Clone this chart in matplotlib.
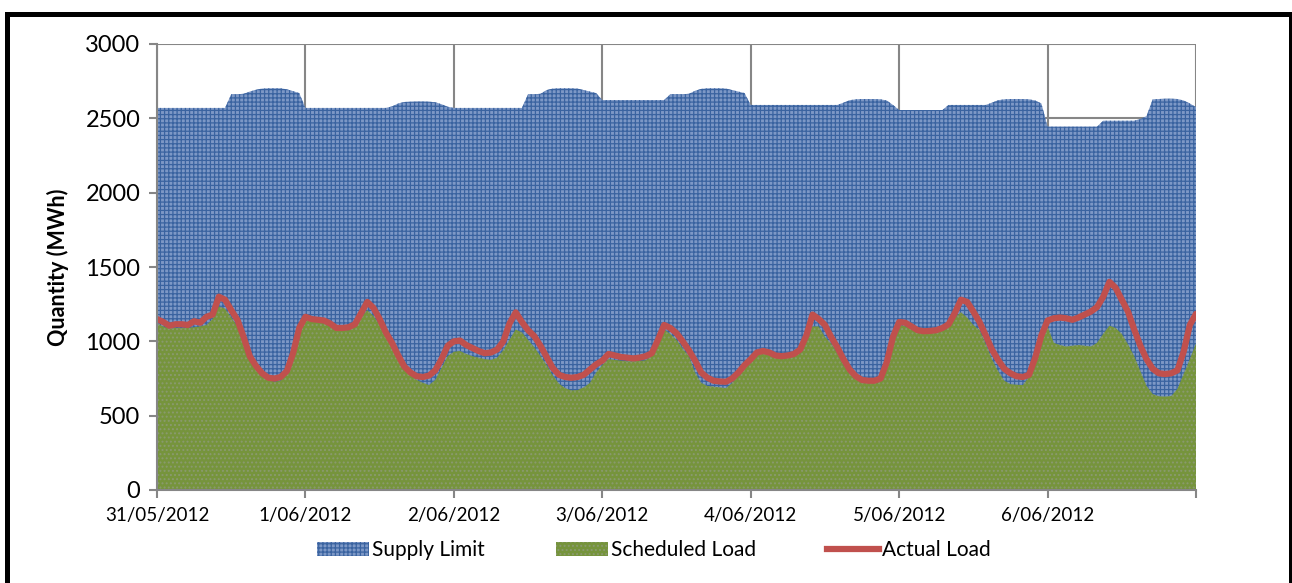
import matplotlib
matplotlib.use("Agg")
import matplotlib.pyplot as plt
import numpy as np
from matplotlib.patches import Patch, Rectangle
from matplotlib.lines import Line2D

plt.rcParams['font.family'] = ['Lato', 'DejaVu Sans']

# ---- data (hourly, 31/05/2012 00:00 .. 7/06/2012 00:00) ----
date_labels = ["31/05/2012", "1/06/2012", "2/06/2012", "3/06/2012",
               "4/06/2012", "5/06/2012", "6/06/2012", ""]

supply_limit = [
    # 31/05
    2570, 2570, 2570, 2570, 2570, 2570, 2570, 2570, 2570, 2570, 2570, 2570,
    2662, 2662, 2665, 2680, 2692, 2700, 2702, 2702, 2702, 2695, 2683, 2670,
    # 1/06
    2570, 2570, 2570, 2570, 2570, 2570, 2570, 2570, 2570, 2570, 2570, 2570,
    2570, 2570, 2580, 2600, 2610, 2612, 2613, 2613, 2612, 2608, 2595, 2578,
    # 2/06
    2570, 2570, 2570, 2570, 2570, 2570, 2570, 2570, 2570, 2570, 2570, 2570,
    2662, 2662, 2665, 2690, 2700, 2702, 2702, 2702, 2700, 2690, 2680, 2670,
    # 3/06
    2623, 2623, 2623, 2623, 2623, 2623, 2623, 2623, 2623, 2623, 2623, 2662,
    2662, 2662, 2665, 2685, 2698, 2702, 2702, 2702, 2700, 2690, 2680, 2670,
    # 4/06
    2590, 2590, 2590, 2590, 2590, 2590, 2590, 2590, 2590, 2590, 2590, 2590,
    2590, 2590, 2590, 2605, 2622, 2628, 2630, 2630, 2630, 2628, 2620, 2590,
    # 5/06
    2556, 2556, 2556, 2556, 2556, 2556, 2556, 2556, 2590, 2590, 2590, 2590,
    2590, 2590, 2590, 2605, 2622, 2628, 2630, 2630, 2630, 2628, 2620, 2600,
    # 6/06
    2444, 2444, 2444, 2444, 2444, 2444, 2444, 2444, 2444, 2484, 2484, 2484,
    2484, 2484, 2484, 2495, 2515, 2628, 2630, 2632, 2632, 2630, 2620, 2600,
    2575,
]

scheduled_load = [
    1120, 1100, 1085, 1090, 1088, 1090, 1095, 1100, 1110, 1150, 1235, 1220,
    1160, 1100, 1000, 890, 815, 770, 740, 728, 735, 780, 900, 1080,
    1140, 1135, 1130, 1120, 1100, 1078, 1075, 1075, 1100, 1160, 1210, 1170,
    1110, 1040, 970, 880, 810, 770, 740, 720, 706, 740, 820, 900,
    930, 935, 915, 900, 890, 880, 875, 890, 940, 1010, 1080, 1060,
    1010, 960, 900, 840, 770, 715, 685, 670, 672, 690, 720, 790,
    840, 880, 875, 870, 865, 865, 868, 872, 900, 990, 1080, 1050,
    1010, 950, 900, 790, 720, 700, 695, 690, 685, 720, 770, 830,
    900, 925, 915, 908, 900, 895, 892, 910, 940, 1030, 1100, 1100,
    1030, 985, 920, 840, 780, 745, 735, 730, 728, 760, 830, 1050,
    1110, 1100, 1085, 1075, 1066, 1068, 1072, 1076, 1110, 1160, 1195, 1160,
    1110, 1076, 980, 880, 800, 735, 712, 708, 706, 760, 860, 1000,
    1100, 990, 975, 965, 970, 975, 970, 965, 990, 1050, 1105, 1090,
    1050, 980, 900, 800, 700, 645, 630, 628, 632, 680, 780, 880,
    985,
]

actual_load = [
    1150, 1130, 1105, 1115, 1115, 1110, 1135, 1125, 1165, 1180, 1300, 1280,
    1210, 1145, 1030, 900, 835, 785, 755, 750, 760, 800, 920, 1090,
    1165, 1150, 1145, 1140, 1120, 1090, 1090, 1095, 1115, 1190, 1265, 1225,
    1150, 1060, 990, 905, 830, 790, 765, 760, 770, 805, 880, 970,
    1000, 1005, 975, 955, 935, 920, 925, 945, 1000, 1120, 1195, 1130,
    1075, 1035, 970, 895, 820, 775, 760, 755, 760, 775, 810, 845,
    870, 915, 905, 895, 890, 885, 890, 900, 920, 1010, 1110, 1090,
    1055, 1000, 940, 870, 790, 755, 735, 730, 728, 750, 790, 840,
    880, 925, 935, 925, 905, 900, 905, 915, 945, 1040, 1180, 1150,
    1110, 1030, 960, 880, 810, 765, 740, 735, 735, 750, 860, 1030,
    1130, 1125, 1100, 1075, 1068, 1070, 1075, 1090, 1115, 1190, 1280, 1265,
    1200, 1130, 1040, 945, 875, 815, 785, 765, 760, 775, 890, 1040,
    1140, 1155, 1160, 1155, 1145, 1160, 1180, 1200, 1230, 1300, 1400, 1360,
    1280, 1200, 1080, 970, 880, 815, 785, 780, 785, 805, 930, 1110,
    1185,
]

# ---- figure ----
W, H = 1292, 583
fig = plt.figure(figsize=(W / 100, H / 100), dpi=100)
ax = fig.add_axes([157 / W, 1 - 490 / H, (1196 - 157) / W, (490 - 44) / H])

x = np.arange(len(actual_load)) / 24.0
plt.rcParams['hatch.linewidth'] = 0.9

blue_face = '#7d98c6'
blue_hatch = '#3a63a0'
green_face = '#76943c'
green_hatch = '#8a9a70'

ax.fill_between(x, 0, supply_limit, facecolor=blue_face, edgecolor=blue_hatch,
                hatch='++++', linewidth=0, zorder=2)
ax.fill_between(x, 0, scheduled_load, facecolor=green_face, edgecolor=green_hatch,
                hatch='....', linewidth=0, zorder=3)
ax.plot(x, actual_load, color='#c0504d', lw=4.5, solid_capstyle='round',
        solid_joinstyle='round', zorder=4)

ax.set_xlim(0, 7)
ax.set_ylim(0, 3000)
ax.set_yticks(np.arange(0, 3001, 500))
ax.set_xticks(np.arange(0, 8))
ax.set_xticklabels(date_labels)

grid_c = '#868686'
ax.grid(True, color=grid_c, lw=1.5, zorder=0)
ax.set_axisbelow(True)
for s in ['top', 'right']:
    ax.spines[s].set_visible(False)
for s in ['left', 'bottom']:
    ax.spines[s].set_color(grid_c)
    ax.spines[s].set_linewidth(1.5)
    ax.spines[s].set_zorder(5)

ax.tick_params(axis='y', colors=grid_c, length=6, width=1.5, labelsize=17,
               labelcolor='black', pad=6)
ax.tick_params(axis='x', colors=grid_c, length=6, width=1.5, labelsize=13.5,
               labelcolor='black', pad=6)

ax.set_ylabel('Quantity (MWh)', fontsize=15.5, fontweight='bold', labelpad=12)

handles = [
    Patch(facecolor=blue_face, edgecolor=blue_hatch, hatch='++++', lw=0, label='Supply Limit'),
    Patch(facecolor=green_face, edgecolor=green_hatch, hatch='....', lw=0, label='Scheduled Load'),
    Line2D([0], [0], color='#c0504d', lw=4.5, label='Actual Load'),
]
fig.legend(handles=handles, loc='center', bbox_to_anchor=(654 / W, 1 - 550 / H),
           ncol=3, frameon=False, fontsize=15, handlelength=2.5,
           handleheight=0.65, handletextpad=0.15, columnspacing=3.4)

# outer black border
fig.add_artist(Rectangle((6.5 / W, -0.2), (1290.5 - 6.5) / W, 1.2 - 14 / H,
                         transform=fig.transFigure, fill=False,
                         edgecolor='black', lw=3.6, zorder=10))

fig.savefig('out.png', dpi=100)
